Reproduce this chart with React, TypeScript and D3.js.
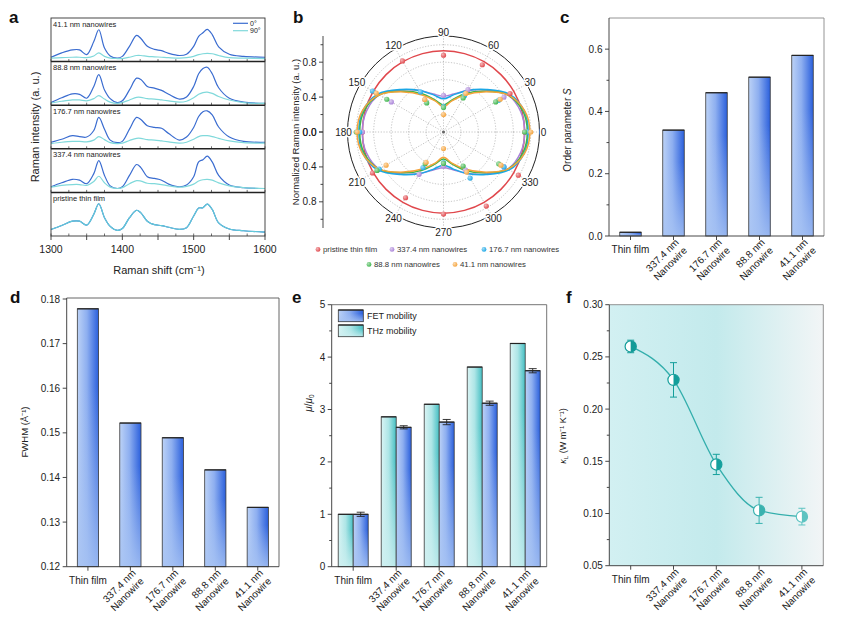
import * as d3 from "d3";

const FONT = "'Liberation Sans', Arial, Helvetica, sans-serif";
const INK = "#333";

// ---------- a: polarized Raman spectra ----------
const ramanShift = [1300, 1315, 1330, 1340, 1350, 1360, 1367, 1375, 1383, 1393, 1400, 1410, 1420, 1426, 1435, 1445, 1455, 1465, 1480, 1490, 1500, 1507, 1513, 1519, 1526, 1535, 1550, 1570, 1600];
const spectraNames = ["41.1 nm nanowires", "88.8 nm nanowires", "176.7 nm nanowires", "337.4 nm nanowires", "pristine thin film"];
// intensity as a fraction of each stacked sub-panel height
const raman0 = [
  [0.10, 0.20, 0.27, 0.27, 0.16, 0.46, 0.73, 0.31, 0.13, 0.08, 0.12, 0.35, 0.60, 0.53, 0.35, 0.28, 0.25, 0.19, 0.14, 0.17, 0.35, 0.58, 0.66, 0.74, 0.62, 0.34, 0.17, 0.12, 0.10],
  [0.06, 0.17, 0.26, 0.25, 0.16, 0.43, 0.70, 0.35, 0.15, 0.06, 0.10, 0.35, 0.62, 0.59, 0.43, 0.39, 0.34, 0.25, 0.14, 0.19, 0.43, 0.72, 0.84, 0.87, 0.72, 0.40, 0.16, 0.07, 0.04],
  [0.15, 0.22, 0.30, 0.28, 0.27, 0.42, 0.72, 0.45, 0.20, 0.14, 0.17, 0.45, 0.72, 0.67, 0.53, 0.49, 0.47, 0.35, 0.20, 0.27, 0.49, 0.74, 0.85, 0.87, 0.78, 0.50, 0.27, 0.17, 0.15],
  [0.13, 0.22, 0.30, 0.28, 0.20, 0.43, 0.73, 0.39, 0.15, 0.09, 0.13, 0.39, 0.64, 0.57, 0.36, 0.32, 0.28, 0.19, 0.13, 0.17, 0.36, 0.70, 0.75, 0.83, 0.70, 0.39, 0.17, 0.11, 0.09],
  [0.15, 0.24, 0.34, 0.34, 0.25, 0.50, 0.74, 0.42, 0.22, 0.13, 0.17, 0.42, 0.59, 0.53, 0.34, 0.26, 0.24, 0.20, 0.15, 0.19, 0.46, 0.64, 0.65, 0.73, 0.61, 0.30, 0.16, 0.12, 0.09],
];
const raman90 = [
  [0.08, 0.09, 0.10, 0.10, 0.09, 0.13, 0.20, 0.12, 0.08, 0.07, 0.07, 0.10, 0.14, 0.14, 0.12, 0.11, 0.10, 0.09, 0.08, 0.09, 0.12, 0.16, 0.18, 0.19, 0.18, 0.14, 0.09, 0.08, 0.07],
  [0.05, 0.09, 0.12, 0.12, 0.10, 0.15, 0.22, 0.14, 0.07, 0.04, 0.06, 0.12, 0.18, 0.18, 0.15, 0.14, 0.12, 0.10, 0.07, 0.09, 0.17, 0.25, 0.29, 0.30, 0.27, 0.20, 0.12, 0.06, 0.04],
  [0.12, 0.15, 0.17, 0.17, 0.16, 0.20, 0.28, 0.21, 0.14, 0.12, 0.13, 0.19, 0.24, 0.24, 0.21, 0.20, 0.18, 0.16, 0.13, 0.15, 0.22, 0.28, 0.30, 0.30, 0.28, 0.24, 0.18, 0.14, 0.13],
  [0.12, 0.16, 0.18, 0.18, 0.16, 0.25, 0.37, 0.22, 0.12, 0.09, 0.11, 0.20, 0.27, 0.26, 0.21, 0.20, 0.18, 0.15, 0.12, 0.14, 0.19, 0.26, 0.29, 0.30, 0.28, 0.22, 0.15, 0.11, 0.09],
  [0.15, 0.24, 0.34, 0.34, 0.25, 0.50, 0.74, 0.42, 0.22, 0.13, 0.17, 0.42, 0.59, 0.53, 0.34, 0.26, 0.24, 0.20, 0.15, 0.19, 0.46, 0.64, 0.65, 0.73, 0.61, 0.30, 0.16, 0.12, 0.09],
];
const ramanTicks = [1300, 1400, 1500, 1600];

// ---------- b: polar plot ----------
const polarNames = ["pristine thin film", "337.4 nm nanowires", "176.7 nm nanowires", "88.8 nm nanowires", "41.1 nm nanowires"];
const polarColors = ["#e0474c", "#a982d8", "#1ba7e6", "#3db54b", "#f5a33a"];
const fitAngles = [0, 15, 30, 45, 60, 75, 90, 105, 120, 135, 150, 165, 180, 195, 210, 225, 240, 255, 270, 285, 300, 315, 330, 345];
const polarFits = [
  [0.93, 0.93, 0.93, 0.93, 0.93, 0.93, 0.93, 0.93, 0.93, 0.93, 0.93, 0.93, 0.93, 0.93, 0.93, 0.93, 0.93, 0.93, 0.93, 0.93, 0.93, 0.93, 0.93, 0.93],
  [0.93, 0.915, 0.85, 0.68, 0.55, 0.45, 0.41, 0.45, 0.55, 0.68, 0.85, 0.915, 0.93, 0.915, 0.85, 0.68, 0.55, 0.45, 0.41, 0.45, 0.55, 0.68, 0.85, 0.915],
  [0.97, 0.955, 0.87, 0.69, 0.55, 0.44, 0.38, 0.44, 0.55, 0.69, 0.87, 0.955, 0.97, 0.955, 0.87, 0.69, 0.55, 0.44, 0.38, 0.44, 0.55, 0.69, 0.87, 0.955],
  [0.96, 0.94, 0.85, 0.66, 0.51, 0.38, 0.31, 0.38, 0.51, 0.66, 0.85, 0.94, 0.96, 0.94, 0.85, 0.66, 0.51, 0.38, 0.31, 0.38, 0.51, 0.66, 0.85, 0.94],
  [0.99, 0.96, 0.85, 0.65, 0.49, 0.37, 0.29, 0.37, 0.49, 0.65, 0.85, 0.96, 0.99, 0.96, 0.85, 0.65, 0.49, 0.37, 0.29, 0.37, 0.49, 0.65, 0.85, 0.96],
];
const pointAngles = [0, 30, 60, 90, 120, 150, 180, 210, 240, 270, 300, 330];
const polarPoints = [
  [0.93, 0.88, 0.89, 0.88, 0.94, 0.93, 0.93, 0.94, 0.87, 0.94, 0.98, 0.99],
  [0.96, 0.80, 0.56, 0.42, 0.43, 0.69, 0.93, 0.87, 0.56, 0.39, 0.50, 0.80],
  [0.96, 0.73, 0.48, 0.29, 0.53, 0.94, 0.96, 0.85, 0.47, 0.35, 0.61, 0.80],
  [0.93, 0.69, 0.45, 0.28, 0.385, 0.75, 1.0, 0.88, 0.42, 0.36, 0.45, 0.73],
  [1.0, 0.75, 0.51, 0.20, 0.43, 0.89, 0.99, 0.76, 0.40, 0.19, 0.53, 0.76],
];
const radialTicks = [0, 0.4, 0.8];
const radialMinor = [0.2, 0.6, 1.0];
const radialGrid = [0.2, 0.4, 0.6, 0.8, 1.0];

// ---------- c-f: nanowire series ----------
const samples = ["Thin film", "337.4 nm", "176.7 nm", "88.8 nm", "41.1 nm"];
const orderParam = [0.012, 0.34, 0.46, 0.51, 0.58];
const fwhm = [0.1778, 0.1522, 0.1489, 0.1417, 0.1333];
const thzMobility = [1.0, 2.86, 3.1, 3.81, 4.26];
const fetMobility = [1.0, 2.66, 2.76, 3.12, 3.74];
const fetError = [0.04, 0.03, 0.05, 0.04, 0.04];
const kappa = [0.26, 0.228, 0.147, 0.103, 0.097];
const kappaError = [0.006, 0.0165, 0.0097, 0.0125, 0.008];

type Frame = { l: number; r: number; t: number; b: number };

function YAxis({ f, y, ticks, minor, fmt }: { f: Frame; y: d3.ScaleLinear<number, number>; ticks: number[]; minor: number[]; fmt: (v: number) => string }) {
  return (
    <g stroke={INK} strokeWidth={0.9}>
      <line x1={f.l} x2={f.l} y1={f.t} y2={f.b} />
      {ticks.map((v) => (
        <g key={v}>
          <line x1={f.l - 4} x2={f.l} y1={y(v)} y2={y(v)} />
          <text x={f.l - 6.5} y={y(v)} dy="0.35em" textAnchor="end" fontSize={10} fill="#222" stroke="none">
            {fmt(v)}
          </text>
        </g>
      ))}
      {minor.map((v) => (
        <line key={"m" + v} x1={f.l - 2.5} x2={f.l} y1={y(v)} y2={y(v)} />
      ))}
    </g>
  );
}

function CategoryAxis({ f, x }: { f: Frame; x: d3.ScaleBand<string> }) {
  return (
    <g>
      <line x1={f.l} x2={f.r} y1={f.b} y2={f.b} stroke={INK} strokeWidth={0.9} />
      {samples.map((s, i) => {
        const cx = x(s)! + x.bandwidth() / 2;
        return (
          <g key={s}>
            <line x1={cx} x2={cx} y1={f.b} y2={f.b + 4} stroke={INK} strokeWidth={0.9} />
            {i === 0 ? (
              <text x={cx} y={f.b + 17} textAnchor="middle" fontSize={10} fill="#222">
                {s}
              </text>
            ) : (
              <text transform={`translate(${cx + 6},${f.b + 7}) rotate(-45)`} textAnchor="end" fontSize={10} fill="#222">
                <tspan x={0} dy={0}>{s}</tspan>
                <tspan x={0} dy="1.15em">Nanowire</tspan>
              </text>
            )}
          </g>
        );
      })}
    </g>
  );
}

function Box({ f, color = "#666" }: { f: Frame; color?: string }) {
  return (
    <g stroke={color} strokeWidth={0.9}>
      <line x1={f.l} x2={f.r} y1={f.t} y2={f.t} />
      <line x1={f.r} x2={f.r} y1={f.t} y2={f.b} />
    </g>
  );
}

function GradBar({ x, y, w, h, tone }: { x: number; y: number; w: number; h: number; tone: "blue" | "cyan" }) {
  return (
    <g>
      <rect x={x} y={y} width={w} height={h} fill={`url(#${tone}H)`} />
      <rect x={x} y={y} width={w} height={h} fill={`url(#${tone}V)`} />
      <rect x={x} y={y} width={w} height={h} fill="none" stroke="#3a3a3a" strokeWidth={0.8} />
      <line x1={x} x2={x + w} y1={y} y2={y} stroke="#222" strokeWidth={1.2} />
    </g>
  );
}

function Defs() {
  return (
    <defs>
      <linearGradient id="blueH" x1={0} y1={0} x2={1} y2={0}>
        <stop offset="0" stopColor="#bcd2f6" />
        <stop offset="0.45" stopColor="#8eaff0" />
        <stop offset="1" stopColor="#2a5fdc" />
      </linearGradient>
      <linearGradient id="blueV" x1={0} y1={0} x2={0} y2={1}>
        <stop offset="0" stopColor="#a7c3f3" stopOpacity={0} />
        <stop offset="0.3" stopColor="#a7c3f3" stopOpacity={0} />
        <stop offset="1" stopColor="#a7c3f3" stopOpacity={0.85} />
      </linearGradient>
      <linearGradient id="cyanH" x1={0} y1={0} x2={1} y2={0}>
        <stop offset="0" stopColor="#daf4f4" />
        <stop offset="0.5" stopColor="#ade5e6" />
        <stop offset="1" stopColor="#45bfc3" />
      </linearGradient>
      <linearGradient id="cyanV" x1={0} y1={0} x2={0} y2={1}>
        <stop offset="0" stopColor="#cdeff0" stopOpacity={0} />
        <stop offset="0.3" stopColor="#cdeff0" stopOpacity={0} />
        <stop offset="1" stopColor="#cdeff0" stopOpacity={0.85} />
      </linearGradient>
      <linearGradient id="fBg" x1={0} y1={0} x2={1} y2={0}>
        <stop offset="0" stopColor="#d2f0f2" />
        <stop offset="0.5" stopColor="#c3eaec" />
        <stop offset="1" stopColor="#f2f5f6" />
      </linearGradient>
      {polarColors.map((c, i) => (
        <radialGradient key={c} id={`pt${i}`} cx="0.35" cy="0.35" r="0.7">
          <stop offset="0" stopColor={d3.interpolateRgb(c, "#ffffff")(0.6)} />
          <stop offset="1" stopColor={c} />
        </radialGradient>
      ))}
    </defs>
  );
}

function Letter({ x, y, ch }: { x: number; y: number; ch: string }) {
  return (
    <text x={x} y={y} fontSize={17} fontWeight="bold" fill="#111">
      {ch}
    </text>
  );
}

// ---------- panels ----------
function PanelA() {
  const x = d3.scaleLinear([1300, 1600], [51, 265]);
  const rows = d3.scaleBand(spectraNames, [18, 236]);
  const h = rows.bandwidth();
  const minorX = [1325, 1350, 1375, 1425, 1450, 1475, 1525, 1550, 1575];
  return (
    <g>
      {spectraNames.map((name, i) => {
        const top = rows(name)!;
        const y = d3.scaleLinear([0, 1], [top + h, top]);
        const line = d3
          .line<number>()
          .x((_, j) => x(ramanShift[j]))
          .y((v) => y(v))
          .curve(d3.curveCatmullRom.alpha(0.5));
        return (
          <g key={name}>
            <path d={line(raman0[i]) ?? ""} fill="none" stroke="#3a6cd0" strokeWidth={1.2} />
            <path d={line(raman90[i]) ?? ""} fill="none" stroke={i === 4 ? "#62cbd8" : "#80d9db"} strokeWidth={1.2} />
            <text x={53} y={top + 8.5} fontSize={7.5} fill="#222">
              {name}
            </text>
            {[...ramanTicks, ...minorX].map((t) => (
              <line key={t} x1={x(t)} x2={x(t)} y1={top + h} y2={top + h - 2.5} stroke={INK} strokeWidth={0.7} />
            ))}
            {i > 0 && <line x1={x(1300)} x2={x(1600)} y1={top} y2={top} stroke="#222" strokeWidth={1.5} />}
          </g>
        );
      })}
      <rect x={x(1300)} y={18} width={x(1600) - x(1300)} height={218} fill="none" stroke={INK} strokeWidth={0.9} />
      {[1300, 1350, 1400, 1450, 1500, 1550, 1600].map((t) => (
        <line key={t} x1={x(t)} x2={x(t)} y1={236} y2={240} stroke={INK} strokeWidth={0.9} />
      ))}
      {ramanTicks.map((t) => (
        <text key={t} x={x(t)} y={253} textAnchor="middle" fontSize={10.5} fill="#222">
          {t}
        </text>
      ))}
      <text x={159} y={274} textAnchor="middle" fontSize={11} fill="#222">
        Raman shift (cm⁻¹)
      </text>
      <text transform="translate(39,127) rotate(-90)" textAnchor="middle" fontSize={11} fill="#222">
        Raman intensity (a. u.)
      </text>
      <line x1={233} x2={248} y1={23.3} y2={23.3} stroke="#3a6cd0" strokeWidth={1.2} />
      <text x={250} y={25.8} fontSize={7} fill="#222">0°</text>
      <line x1={233} x2={248} y1={30.7} y2={30.7} stroke="#80d9db" strokeWidth={1.2} />
      <text x={250} y={33.2} fontSize={7} fill="#222">90°</text>
      <Letter x={9} y={23} ch="a" />
    </g>
  );
}

function PanelB() {
  const cx = 443.5;
  const cy = 132;
  const r = d3.scaleLinear([0, 1.1], [0, 96]);
  const rad = (deg: number) => (deg * Math.PI) / 180;
  const fit = d3
    .lineRadial<number>()
    .angle((_, j) => rad(90 - fitAngles[j]))
    .radius((v) => r(v))
    .curve(d3.curveCatmullRomClosed.alpha(0.5));
  const spokes = [0, 30, 60, 90, 120, 150, 180, 210, 240, 270, 300, 330];
  const axisX = 323;
  const legendRows = [
    { y: 252, items: [0, 1, 2], xs: [318, 392, 484] },
    { y: 267, items: [3, 4], xs: [369, 455] },
  ];
  return (
    <g>
      <g transform={`translate(${cx},${cy})`}>
        {radialGrid.map((g) => (
          <circle key={g} r={r(g)} fill="none" stroke="#9a9a9a" strokeWidth={0.6} strokeDasharray="1.2 1.6" />
        ))}
        {spokes.map((a) => (
          <line key={a} x1={0} y1={0} x2={r(1.1) * Math.cos(rad(a))} y2={-r(1.1) * Math.sin(rad(a))} stroke="#9a9a9a" strokeWidth={0.6} strokeDasharray="1.2 1.6" />
        ))}
        <circle r={r(1.1)} fill="none" stroke="#222" strokeWidth={1} />
        <circle r={1.5} fill="#666" />
        {polarFits.map((vals, i) => (
          <path key={i} d={fit(vals) ?? ""} fill="none" stroke={polarColors[i]} strokeWidth={1.5} />
        ))}
        {polarPoints.map((vals, i) =>
          vals.map((v, j) => (
            <circle key={`${i}-${j}`} cx={r(v) * Math.cos(rad(pointAngles[j]))} cy={-r(v) * Math.sin(rad(pointAngles[j]))} r={2.6} fill={`url(#pt${i})`} />
          ))
        )}
        {spokes.map((a) => (
          <text
            key={"l" + a}
            x={100 * Math.cos(rad(a))}
            y={-100 * Math.sin(rad(a))}
            dy="0.35em"
            textAnchor="middle"
            fontSize={10}
            fill="#222"
            stroke="#fff"
            strokeWidth={3}
            paintOrder="stroke"
          >
            {a}
          </text>
        ))}
      </g>
      <g stroke={INK} strokeWidth={0.9}>
        <line x1={axisX} x2={axisX} y1={cy - r(1.1)} y2={cy + r(1.1)} />
        {radialTicks.flatMap((v) => [v, -v]).map((v, k) => (
          <g key={k}>
            <line x1={axisX - 4} x2={axisX} y1={cy - r(v)} y2={cy - r(v)} />
            <text x={axisX - 6.5} y={cy - r(v)} dy="0.35em" textAnchor="end" fontSize={10} fill="#222" stroke="none">
              {Math.abs(v).toFixed(1)}
            </text>
          </g>
        ))}
        {radialMinor.flatMap((v) => [v, -v]).map((v, k) => (
          <line key={"m" + k} x1={axisX - 2.5} x2={axisX} y1={cy - r(v)} y2={cy - r(v)} />
        ))}
      </g>
      <text transform={`translate(299,${cy}) rotate(-90)`} textAnchor="middle" fontSize={9.5} fill="#222">
        Normalized Raman intensity (a. u.)
      </text>
      {legendRows.map((row) =>
        row.items.map((idx, k) => (
          <g key={idx}>
            <circle cx={row.xs[k]} cy={row.y - 2.6} r={2.4} fill={`url(#pt${idx})`} />
            <text x={row.xs[k] + 5} y={row.y} fontSize={7.8} fill="#333">
              {polarNames[idx]}
            </text>
          </g>
        ))
      )}
      <Letter x={293} y={23} ch="b" />
    </g>
  );
}

function PanelC() {
  const f: Frame = { l: 609, r: 824, t: 18, b: 236 };
  const x = d3.scaleBand(samples, [f.l, f.r]).paddingInner(0.5).paddingOuter(0.25);
  const y = d3.scaleLinear([0, 0.7], [f.b, f.t]);
  return (
    <g>
      <Box f={f} color="#888" />
      {orderParam.map((v, i) => (
        <GradBar key={i} x={x(samples[i])!} y={y(v)} w={x.bandwidth()} h={f.b - y(v)} tone="blue" />
      ))}
      <YAxis f={f} y={y} ticks={[0, 0.2, 0.4, 0.6]} minor={[0.1, 0.3, 0.5]} fmt={d3.format(".1f")} />
      <CategoryAxis f={f} x={x} />
      <text transform={`translate(571,130) rotate(-90)`} textAnchor="middle" fontSize={10} fill="#222">
        Order parameter <tspan fontStyle="italic">S</tspan>
      </text>
      <Letter x={560} y={23} ch="c" />
    </g>
  );
}

function PanelD() {
  const f: Frame = { l: 66.7, r: 279, t: 298, b: 566.7 };
  const x = d3.scaleBand(samples, [f.l, f.r]).paddingInner(0.5).paddingOuter(0.25);
  const y = d3.scaleLinear([0.12, 0.18], [f.b, f.t + 1]);
  return (
    <g>
      <Box f={f} color="#555" />
      {fwhm.map((v, i) => (
        <GradBar key={i} x={x(samples[i])!} y={y(v)} w={x.bandwidth()} h={f.b - y(v)} tone="blue" />
      ))}
      <YAxis f={f} y={y} ticks={[0.12, 0.13, 0.14, 0.15, 0.16, 0.17, 0.18]} minor={[]} fmt={d3.format(".2f")} />
      <CategoryAxis f={f} x={x} />
      <text transform={`translate(28,432) rotate(-90)`} textAnchor="middle" fontSize={9.5} fill="#222">
        FWHM (Å⁻¹)
      </text>
      <Letter x={10} y={303} ch="d" />
    </g>
  );
}

function PanelE() {
  const f: Frame = { l: 331.7, r: 546.7, t: 304.7, b: 566.7 };
  const x = d3.scaleBand(samples, [f.l, f.r]);
  const y = d3.scaleLinear([0, 5], [f.b, f.t]);
  const bw = 15;
  return (
    <g>
      <Box f={f} color="#666" />
      {samples.map((s, i) => {
        const cx = x(s)! + x.bandwidth() / 2;
        const fx = cx + bw / 2;
        return (
          <g key={s}>
            <GradBar x={cx - bw} y={y(thzMobility[i])} w={bw} h={f.b - y(thzMobility[i])} tone="cyan" />
            <GradBar x={cx} y={y(fetMobility[i])} w={bw} h={f.b - y(fetMobility[i])} tone="blue" />
            <g stroke="#222" strokeWidth={0.9}>
              <line x1={fx} x2={fx} y1={y(fetMobility[i] + fetError[i])} y2={y(fetMobility[i] - fetError[i])} />
              <line x1={fx - 4} x2={fx + 4} y1={y(fetMobility[i] + fetError[i])} y2={y(fetMobility[i] + fetError[i])} />
              <line x1={fx - 4} x2={fx + 4} y1={y(fetMobility[i] - fetError[i])} y2={y(fetMobility[i] - fetError[i])} />
            </g>
          </g>
        );
      })}
      <YAxis f={f} y={y} ticks={[0, 1, 2, 3, 4, 5]} minor={[0.5, 1.5, 2.5, 3.5, 4.5]} fmt={d3.format("d")} />
      <CategoryAxis f={f} x={x} />
      <GradBar x={338.3} y={310} w={25} h={11.7} tone="blue" />
      <text x={367} y={319} fontSize={9} fill="#222">FET mobility</text>
      <GradBar x={338.3} y={325} w={25} h={11.7} tone="cyan" />
      <text x={367} y={334} fontSize={9} fill="#222">THz mobility</text>
      <text transform={`translate(312,403) rotate(-90)`} textAnchor="middle" fontSize={10} fill="#222">
        <tspan fontStyle="italic">μ</tspan>/<tspan fontStyle="italic">μ</tspan>
        <tspan fontSize={6.5} dy={2}>0</tspan>
      </text>
      <Letter x={292} y={303} ch="e" />
    </g>
  );
}

function PanelF() {
  const f: Frame = { l: 609.3, r: 823.3, t: 304.7, b: 565.7 };
  const x = d3.scaleBand(samples, [f.l, f.r]);
  const y = d3.scaleLinear([0.05, 0.3], [f.b, f.t]);
  const cxOf = (i: number) => x(samples[i])! + x.bandwidth() / 2;
  const tone = d3.scaleLinear<string>([0, 2, 4], ["#129b98", "#16a09d", "#5cc3c1"]);
  const curve = d3
    .line<number>()
    .x((_, i) => cxOf(i))
    .y((v) => y(v))
    .curve(d3.curveMonotoneX);
  const rr = 5.6;
  return (
    <g>
      <rect x={f.l} y={f.t} width={f.r - f.l} height={f.b - f.t} fill="url(#fBg)" />
      <Box f={f} color="#888" />
      <path d={curve(kappa) ?? ""} fill="none" stroke="#33aeac" strokeWidth={1.3} />
      {kappa.map((v, i) => {
        const cx = cxOf(i);
        const c = tone(i);
        const hi = y(v + kappaError[i]);
        const lo = y(v - kappaError[i]);
        return (
          <g key={i}>
            <g stroke={c} strokeWidth={1}>
              <line x1={cx} x2={cx} y1={hi} y2={lo} />
              <line x1={cx - 3.5} x2={cx + 3.5} y1={hi} y2={hi} />
              <line x1={cx - 3.5} x2={cx + 3.5} y1={lo} y2={lo} />
            </g>
            <circle cx={cx} cy={y(v)} r={rr} fill="#fff" />
            <path d={`M${cx},${y(v) - rr} A${rr},${rr} 0 0 1 ${cx},${y(v) + rr} Z`} fill={c} />
            <circle cx={cx} cy={y(v)} r={rr} fill="none" stroke={c} strokeWidth={1.2} />
          </g>
        );
      })}
      <YAxis f={f} y={y} ticks={[0.05, 0.1, 0.15, 0.2, 0.25, 0.3]} minor={[0.075, 0.125, 0.175, 0.225, 0.275]} fmt={d3.format(".2f")} />
      <CategoryAxis f={f} x={x} />
      <text transform={`translate(566,436) rotate(-90)`} textAnchor="middle" fontSize={9} fill="#222">
        <tspan fontStyle="italic">κ</tspan>
        <tspan fontSize={6} dy={2}>L</tspan>
        <tspan dy={-2}> (W m⁻¹ K⁻¹)</tspan>
      </text>
      <Letter x={566} y={303} ch="f" />
    </g>
  );
}

export default function App() {
  return (
    <svg width={842} height={634} viewBox="0 0 842 634" fontFamily={FONT} style={{ position: "absolute", left: 0, top: 0, background: "#fff" }}>
      <Defs />
      <PanelA />
      <PanelB />
      <PanelC />
      <PanelD />
      <PanelE />
      <PanelF />
    </svg>
  );
}
